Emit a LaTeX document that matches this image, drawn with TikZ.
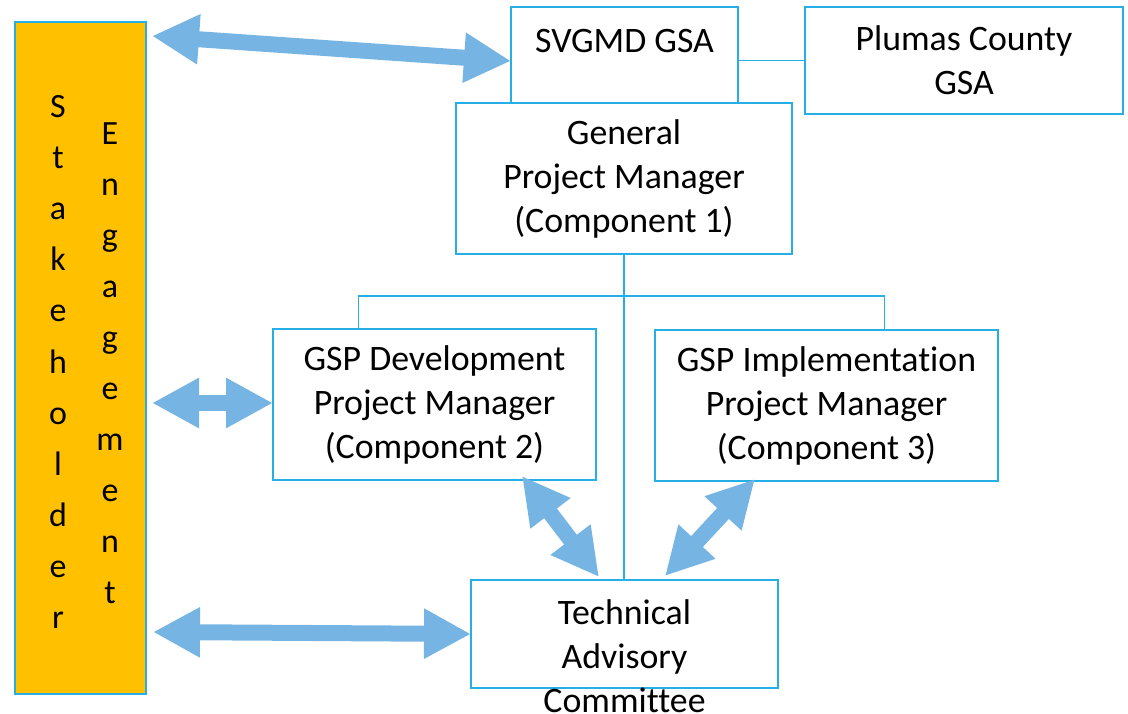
\documentclass[tikz,border=0pt]{standalone}
\usepackage{fontspec}
\setmainfont{Carlito}[Ligatures=NoCommon]
\usetikzlibrary{arrows.meta}
\definecolor{linec}{RGB}{38,175,230}
\definecolor{arrowc}{RGB}{118,181,227}
\definecolor{orangec}{RGB}{255,192,0}
\tikzset{
  box/.style={draw=linec, line width=1.9pt, fill=white, inner sep=0pt, align=center,
              font=\fontsize{35.8}{44}\selectfont},
  txt/.style={inner sep=0pt, align=center, font=\fontsize{35.8}{44}\selectfont},
  letter/.style={inner sep=0pt, anchor=base, font=\fontsize{34}{40}\selectfont},
  link/.style={draw=linec, line width=1.9pt},
  fat/.style={draw=arrowc, line width=16pt,
     arrows={Triangle[width=47pt,length=47pt,fill=arrowc]-Triangle[width=47pt,length=47pt,fill=arrowc]}}
}
\begin{document}
\begin{tikzpicture}[x=1pt,y=-1pt]
\useasboundingbox (0,0) rectangle (1128,714);
% stakeholder column
\node[box, fill=orangec, line width=1.6pt, minimum width=131pt, minimum height=672pt] (stake) at (80.5,358) {};
\foreach \ch [count=\i] in {S,t,a,k,e,h,o,l,d,e,r}
  \node[letter] (sl\i) at (58,{118+51*(\i-1)}) {\ch};
\foreach \ch [count=\i] in {E,n,g,a,g,e,m,e,n,t}
  \node[letter] (el\i) at (110,{145+50.9*(\i-1)}) {\ch};
% boxes
\node[box, minimum width=227pt, minimum height=96pt] (svg) at (624.5,55) {};
\node[txt] (svgtext) at (624.5,41) {SVGMD GSA};
\node[box, minimum width=318pt, minimum height=107pt] (plu) at (964,60.5) {Plumas County\\GSA};
\node[box, minimum width=336pt, minimum height=151pt] (gen) at (624,178.5) {General\\Project Manager\\(Component 1)};
\node[box, minimum width=323pt, minimum height=151pt] (dev) at (434.5,404.5) {GSP Development\\Project Manager\\(Component 2)};
\node[box, minimum width=343pt, minimum height=151pt] (imp) at (826.5,405.5) {GSP Implementation\\Project Manager\\(Component 3)};
\node[box, minimum width=307pt, minimum height=108pt] (tac) at (624.5,634) {};
\node[txt] (tactext) at (624.5,656) {Technical\\Advisory\\Committee};
% tree lines
\draw[link] (svg.east |- plu.west) -- (plu.west);
\draw[link] (gen.south) -- (gen.south |- tac.north);
\coordinate (hub) at (624,296);
\draw[link] (dev.north -| 358.5,0) |- (hub) -| (imp.north -| 884.5,0);
% fat arrows
\coordinate (a1s) at (152,36);
\coordinate (a1e) at (511,61);
\coordinate (a2s) at (152,403);
\coordinate (a2e) at (273,403);
\coordinate (a3s) at (522,476);
\coordinate (a3e) at (599,577);
\coordinate (a4s) at (755,479);
\coordinate (a4e) at (665,576);
\coordinate (a5s) at (153,632);
\coordinate (a5e) at (471,634);
\draw[fat] (a1s) -- (a1e);
\draw[fat] (a2s) -- (a2e);
\draw[fat] (a3s) -- (a3e);
\draw[fat] (a4s) -- (a4e);
\draw[fat] (a5s) -- (a5e);
\end{tikzpicture}
\end{document}
